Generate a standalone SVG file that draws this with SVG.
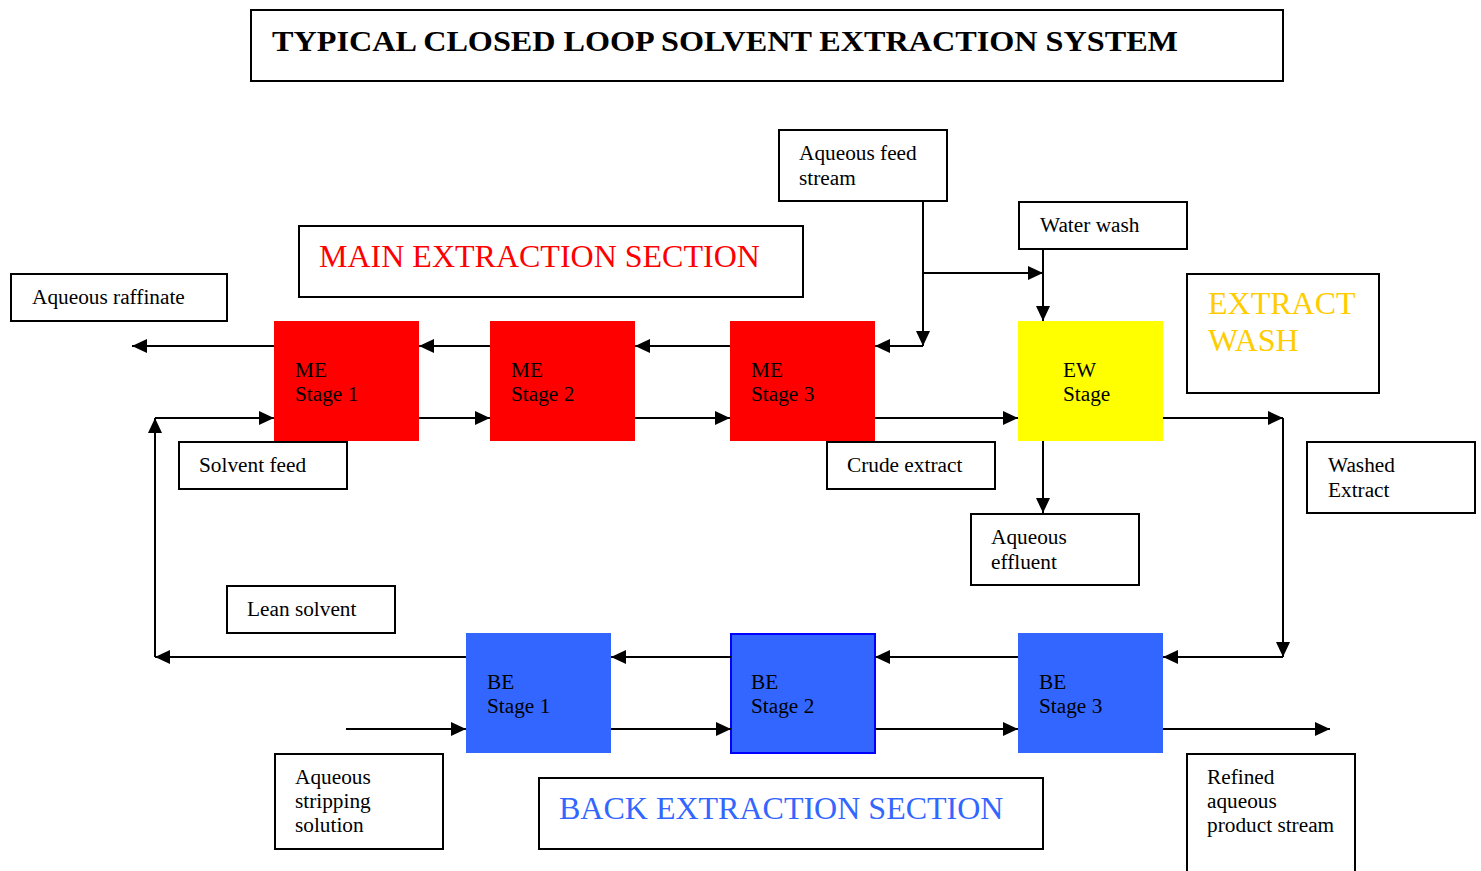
<svg xmlns="http://www.w3.org/2000/svg" width="1481" height="871" viewBox="0 0 1481 871">
<style>
.box{fill:#fff;stroke:#000;stroke-width:2}
.t{font-family:"Liberation Serif","Times New Roman",serif;font-size:21.3px;fill:#000}
.big{font-family:"Liberation Serif","Times New Roman",serif;font-size:32px}
.ln{fill:none;stroke:#000;stroke-width:2}
.red{fill:#ff0000}
.yel{fill:#ffff00}
.blu{fill:#3366ff}
</style>
<defs>
<marker id="ah" markerUnits="userSpaceOnUse" markerWidth="16" markerHeight="14" refX="15" refY="7" orient="auto">
<path d="M0,0 L15,7 L0,14 Z" fill="#000"/>
</marker>
</defs>
<rect width="1481" height="871" fill="#fff"/>

<g id="title">
<rect class="box" x="251" y="10" width="1032" height="71"/>
<text x="272" y="51" font-family="Liberation Serif,Times New Roman,serif" font-weight="bold" font-size="30" textLength="906" lengthAdjust="spacingAndGlyphs">TYPICAL CLOSED LOOP SOLVENT EXTRACTION SYSTEM</text>
</g>

<g id="main-section-label">
<rect class="box" x="299" y="226" width="504" height="71"/>
<text class="big" x="319" y="267" fill="#ff0000">MAIN EXTRACTION SECTION</text>
</g>
<g id="extract-wash-label">
<rect class="box" x="1187" y="274" width="192" height="119"/>
<text class="big" x="1208" y="314" fill="#ffcc00">EXTRACT</text>
<text class="big" x="1208" y="351" fill="#ffcc00">WASH</text>
</g>
<g id="back-section-label">
<rect class="box" x="539" y="778" width="504" height="71"/>
<text class="big" x="559" y="819" fill="#3366ff">BACK EXTRACTION SECTION</text>
</g>

<g id="me1"><rect class="red" x="274" y="321" width="145" height="120"/><text class="t" x="295" y="377">ME</text><text class="t" x="295" y="401">Stage 1</text></g>
<g id="me2"><rect class="red" x="490" y="321" width="145" height="120"/><text class="t" x="511" y="377">ME</text><text class="t" x="511" y="401">Stage 2</text></g>
<g id="me3"><rect class="red" x="730" y="321" width="145" height="120"/><text class="t" x="751" y="377">ME</text><text class="t" x="751" y="401">Stage 3</text></g>
<g id="ew"><rect class="yel" x="1018" y="321" width="145" height="120"/><text class="t" x="1063" y="377">EW</text><text class="t" x="1063" y="401">Stage</text></g>
<g id="be1"><rect class="blu" x="466" y="633" width="145" height="120"/><text class="t" x="487" y="689">BE</text><text class="t" x="487" y="713">Stage 1</text></g>
<g id="be2"><rect class="blu" x="731" y="634" width="144" height="119" stroke="#0000ff" stroke-width="2"/><text class="t" x="751" y="689">BE</text><text class="t" x="751" y="713">Stage 2</text></g>
<g id="be3"><rect class="blu" x="1018" y="633" width="145" height="120"/><text class="t" x="1039" y="689">BE</text><text class="t" x="1039" y="713">Stage 3</text></g>

<g id="aqueous-raffinate"><rect class="box" x="11" y="274" width="216" height="47"/><text class="t" x="32" y="304">Aqueous raffinate</text></g>
<g id="aqueous-feed"><rect class="box" x="779" y="130" width="168" height="71"/><text class="t" x="799" y="160">Aqueous feed</text><text class="t" x="799" y="185">stream</text></g>
<g id="water-wash"><rect class="box" x="1019" y="202" width="168" height="47"/><text class="t" x="1040" y="232">Water wash</text></g>
<g id="solvent-feed"><rect class="box" x="179" y="442" width="168" height="47"/><text class="t" x="199" y="472">Solvent feed</text></g>
<g id="crude-extract"><rect class="box" x="827" y="442" width="168" height="47"/><text class="t" x="847" y="472">Crude extract</text></g>
<g id="washed-extract"><rect class="box" x="1307" y="442" width="168" height="71"/><text class="t" x="1328" y="472">Washed</text><text class="t" x="1328" y="497">Extract</text></g>
<g id="aqueous-effluent"><rect class="box" x="971" y="514" width="168" height="71"/><text class="t" x="991" y="544">Aqueous</text><text class="t" x="991" y="569">effluent</text></g>
<g id="lean-solvent"><rect class="box" x="227" y="586" width="168" height="47"/><text class="t" x="247" y="616">Lean solvent</text></g>
<g id="stripping"><rect class="box" x="275" y="754" width="168" height="95"/><text class="t" x="295" y="784">Aqueous</text><text class="t" x="295" y="808">stripping</text><text class="t" x="295" y="832">solution</text></g>
<g id="refined"><rect class="box" x="1187" y="754" width="168" height="130"/><text class="t" x="1207" y="784">Refined</text><text class="t" x="1207" y="808">aqueous</text><text class="t" x="1207" y="832">product stream</text></g>

<g id="connectors">
<line class="ln" x1="274" y1="346" x2="132" y2="346" marker-end="url(#ah)"/>
<line class="ln" x1="490" y1="346" x2="419" y2="346" marker-end="url(#ah)"/>
<line class="ln" x1="730" y1="346" x2="635" y2="346" marker-end="url(#ah)"/>
<line class="ln" x1="923" y1="201" x2="923" y2="346" marker-end="url(#ah)"/>
<line class="ln" x1="923" y1="346" x2="875" y2="346" marker-end="url(#ah)"/>
<line class="ln" x1="923" y1="273" x2="1043" y2="273" marker-end="url(#ah)"/>
<line class="ln" x1="1043" y1="249" x2="1043" y2="321" marker-end="url(#ah)"/>
<line class="ln" x1="155" y1="657" x2="155" y2="418" marker-end="url(#ah)"/>
<line class="ln" x1="155" y1="418" x2="274" y2="418" marker-end="url(#ah)"/>
<line class="ln" x1="419" y1="418" x2="490" y2="418" marker-end="url(#ah)"/>
<line class="ln" x1="635" y1="418" x2="730" y2="418" marker-end="url(#ah)"/>
<line class="ln" x1="875" y1="418" x2="1018" y2="418" marker-end="url(#ah)"/>
<line class="ln" x1="1163" y1="418" x2="1283" y2="418" marker-end="url(#ah)"/>
<line class="ln" x1="1283" y1="418" x2="1283" y2="657" marker-end="url(#ah)"/>
<line class="ln" x1="1283" y1="657" x2="1163" y2="657" marker-end="url(#ah)"/>
<line class="ln" x1="1043" y1="441" x2="1043" y2="513" marker-end="url(#ah)"/>
<line class="ln" x1="1018" y1="657" x2="875" y2="657" marker-end="url(#ah)"/>
<line class="ln" x1="731" y1="657" x2="611" y2="657" marker-end="url(#ah)"/>
<line class="ln" x1="466" y1="657" x2="155" y2="657" marker-end="url(#ah)"/>
<line class="ln" x1="346" y1="729" x2="466" y2="729" marker-end="url(#ah)"/>
<line class="ln" x1="611" y1="729" x2="731" y2="729" marker-end="url(#ah)"/>
<line class="ln" x1="875" y1="729" x2="1018" y2="729" marker-end="url(#ah)"/>
<line class="ln" x1="1163" y1="729" x2="1330" y2="729" marker-end="url(#ah)"/>
</g>
</svg>
